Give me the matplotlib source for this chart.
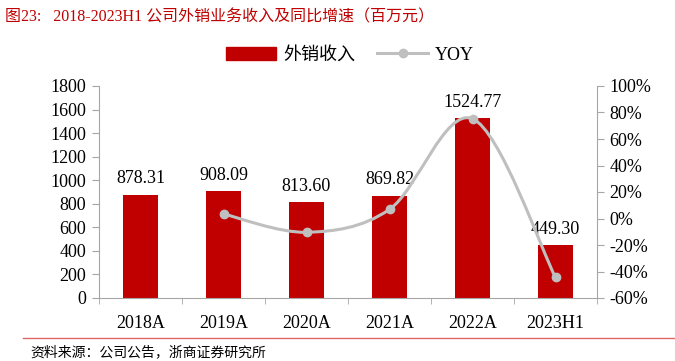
import matplotlib.pyplot as plt
import numpy as np
from matplotlib.path import Path
from matplotlib.patches import PathPatch
from matplotlib.lines import Line2D
from matplotlib.patches import Patch

plt.rcParams['font.family'] = ['Liberation Serif', 'Noto Sans CJK SC']

years = ['2018A', '2019A', '2020A', '2021A', '2022A', '2023H1']
revenue = [878.31, 908.09, 813.60, 869.82, 1524.77, 449.30]
yoy_years = [1, 2, 3, 4, 5]
yoy = [3.4, -10.4, 6.9, 75.3, -44.5]

RED = '#C00000'
GRAY = '#BFBFBF'
SPINE = '#A6A6A6'

fig = plt.figure(figsize=(6.75, 3.61), dpi=100)
ax = fig.add_axes([99 / 675, 1 - 298 / 361, 498 / 675, 212 / 361])
x = np.arange(len(years))
ax.bar(x, revenue, width=0.41, color=RED, zorder=2)
for xi, v in zip(x, revenue):
    ax.text(xi, v + 60, f'{v:.2f}', ha='center', va='bottom', fontsize=13)
ax.set_xlim(-0.5, len(years) - 0.5)
ax.set_ylim(0, 1800)
ax.set_yticks(range(0, 1801, 200))
ax.set_xticks(x)
ax.set_xticklabels(years, fontsize=13)
ax.set_xticks(np.arange(-0.5, len(years), 1), minor=True)
ax.tick_params(axis='x', which='major', length=0, pad=12)
ax.tick_params(axis='x', which='minor', length=4, color=SPINE)
ax.tick_params(axis='y', labelsize=13, length=5, color=SPINE, pad=4)
for s in ['top', 'right']:
    ax.spines[s].set_visible(False)
for s in ['left', 'bottom']:
    ax.spines[s].set_color(SPINE)

ax2 = ax.twinx()
ax2.set_ylim(-60, 100)
ax2.set_yticks(range(-60, 101, 20))
ax2.set_yticklabels([f'{t}%' for t in range(-60, 101, 20)], fontsize=13)
ax2.tick_params(axis='y', length=5, color=SPINE, pad=4)
for s in ['top', 'left', 'bottom']:
    ax2.spines[s].set_visible(False)
ax2.spines['right'].set_color(SPINE)

# smooth line (Catmull-Rom as cubic Bezier segments)
px = np.array(yoy_years, dtype=float)
py = np.array(yoy, dtype=float)
verts = [(px[0], py[0])]
codes = [Path.MOVETO]
n = len(px)
for i in range(n - 1):
    p0 = (px[i - 1], py[i - 1]) if i > 0 else (px[i], py[i])
    p3 = (px[i + 2], py[i + 2]) if i + 2 < n else (px[i + 1], py[i + 1])
    c1 = (px[i] + (px[i + 1] - p0[0]) / 6, py[i] + (py[i + 1] - p0[1]) / 6)
    c2 = (px[i + 1] - (p3[0] - px[i]) / 6, py[i + 1] - (p3[1] - py[i]) / 6)
    verts += [c1, c2, (px[i + 1], py[i + 1])]
    codes += [Path.CURVE4] * 3
ax2.add_patch(PathPatch(Path(verts, codes), fill=False, edgecolor=GRAY, lw=2.2, zorder=3))
ax2.plot(px, py, 'o', color=GRAY, ms=6, zorder=4)

handles = [Patch(color=RED), Line2D([0], [0], color=GRAY, lw=2.2, marker='o', ms=6)]
fig.legend(handles, ['外销收入', 'YOY'], loc='center', bbox_to_anchor=(350 / 675, 1 - 55 / 361),
           ncol=2, frameon=False, fontsize=13, handlelength=2.8, columnspacing=1.2, handletextpad=0.4)

fig.text(5 / 675, 1 - 17 / 361, '图23:   2018-2023H1 公司外销业务收入及同比增速（百万元）',
         color=RED, fontsize=11.5, va='center', ha='left')
fig.add_artist(Line2D([23 / 675, 1], [1 - 338 / 361] * 2, color='#E06666', lw=1))
fig.text(30 / 675, 1 - 352 / 361, '资料来源：公司公告，浙商证券研究所', fontsize=10, va='center', ha='left')

fig.savefig('out.png', dpi=100)
